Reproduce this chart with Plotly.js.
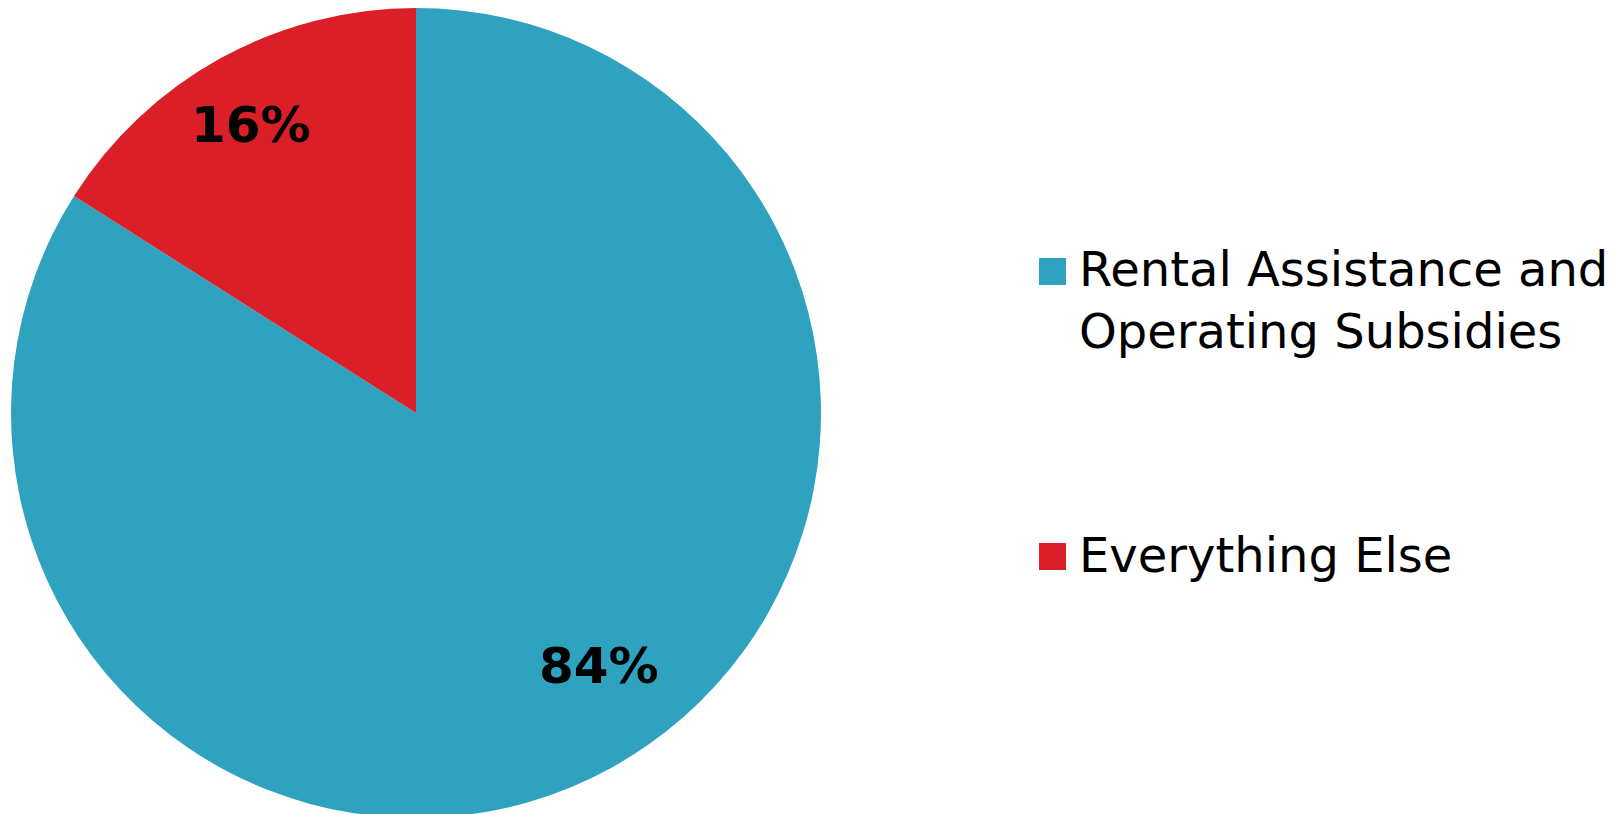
<!DOCTYPE html>
<html>
<head>
<meta charset="utf-8">
<script src="https://cdn.plot.ly/plotly-3.0.1.min.js"></script>
<style>
html, body { margin: 0; padding: 0; overflow: hidden; background: #fff; }
#chart { width: 1623px; height: 818px; }
</style>
</head>
<body>
<div id="chart"></div>
<script>
// Data
const categories = ["Rental Assistance and<br>Operating Subsidies", "Everything Else"];
const shares = [84, 16];
const sliceColors = ["#2EA2BF", "#DA1F28"];

// Geometry / style (pixels)
const W = 1623, H = 818, TOP = 8;
const plotH = H - TOP;
const cx = 416, cy = TOP + plotH / 2, R = plotH / 2;
const labelRadius = [0.771, 0.82];
const labelAngleShift = [-7, -1];

const trace = {
  type: "pie",
  labels: categories,
  values: shares,
  sort: false,
  direction: "clockwise",
  rotation: 0,
  marker: { colors: sliceColors, line: { width: 0 } },
  textinfo: "none",
  hoverinfo: "none",
  showlegend: false,
  domain: { x: [0, 832 / W], y: [0, 1] }
};

const shapes = [];
const annotations = [];

// Percentage labels, positioned from the values (mid-angle of each slice)
const total = shares.reduce((a, b) => a + b, 0);
let cum = 0;
shares.forEach((v, i) => {
  const mid = (cum + v / 2) / total;
  cum += v;
  const th = (mid * 360 + labelAngleShift[i]) * Math.PI / 180;
  const px = cx + R * labelRadius[i] * Math.sin(th);
  const py = cy - R * labelRadius[i] * Math.cos(th);
  annotations.push({
    xref: "paper", yref: "paper",
    x: px / W, y: (H - py) / plotH,
    xanchor: "center", yanchor: "middle",
    text: Math.round(v / total * 100) + "%", showarrow: false,
    font: { family: "DejaVu Sans", size: 50, color: "#000000", weight: "bold" }
  });
});

// Custom legend built from categories/colors
const legendY = [0.639, 0.325];
const swatchTop = [258, 543];
categories.forEach((c, i) => {
  annotations.push({
    xref: "paper", yref: "paper",
    x: 1077 / W, y: legendY[i],
    xanchor: "left", yanchor: "middle",
    text: c, showarrow: false, align: "left",
    font: { family: "DejaVu Sans", size: 48, color: "#000000" }
  });
  shapes.push({
    type: "rect", xref: "paper", yref: "paper",
    x0: 1039 / W, x1: 1066 / W,
    y0: (H - swatchTop[i] - 27) / plotH, y1: (H - swatchTop[i]) / plotH,
    fillcolor: sliceColors[i], line: { width: 0 }
  });
});

const layout = {
  width: W, height: H,
  margin: { l: 0, r: 0, t: TOP, b: 0 },
  paper_bgcolor: "#ffffff",
  plot_bgcolor: "#ffffff",
  showlegend: false,
  shapes: shapes,
  annotations: annotations
};

Plotly.newPlot("chart", [trace], layout, { displayModeBar: false, staticPlot: true });
</script>
</body>
</html>
